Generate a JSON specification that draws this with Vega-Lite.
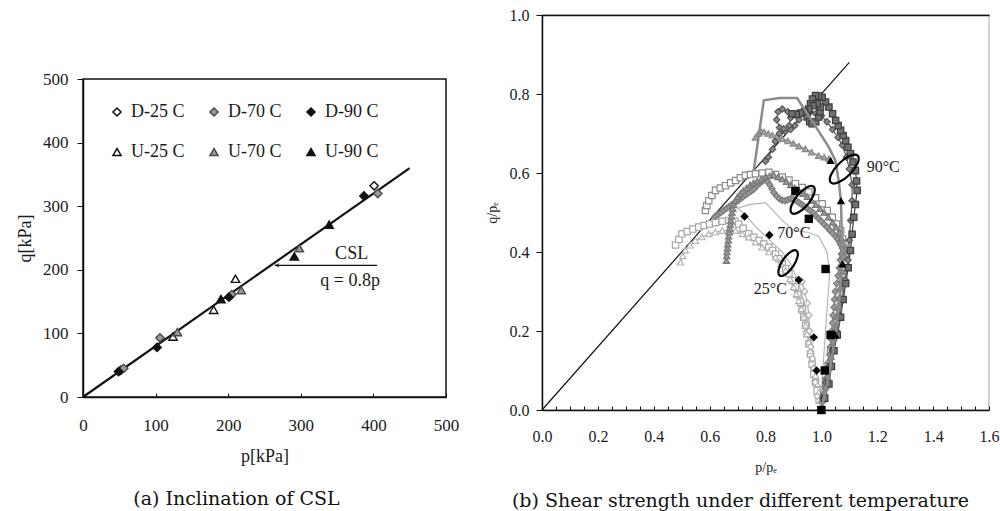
{
  "$schema": "https://vega.github.io/schema/vega-lite/v6.json",
  "background": "white",
  "padding": {"left": 15, "top": 6, "right": 0, "bottom": 0},
  "spacing": 24,
  "config": {
    "font": "Liberation Serif",
    "axis": {"labelFont": "Liberation Serif", "titleFont": "Liberation Serif", "labelColor": "#1a1a1a", "titleColor": "#1a1a1a", "titleFontWeight": "normal", "domainColor": "#111111", "tickColor": "#111111", "grid": false, "labelFlush": false, "labelOverlap": false},
    "title": {"font": "DejaVu Serif", "fontWeight": "normal", "color": "#111111"},
    "text": {"font": "Liberation Serif"}
  },
  "datasets": {
    "left": [
      {"series": "D-25 C", "p": 52, "q": 42}, {"series": "D-25 C", "p": 401, "q": 332},
      {"series": "U-25 C", "p": 124, "q": 95}, {"series": "U-25 C", "p": 180, "q": 137}, {"series": "U-25 C", "p": 210, "q": 186},
      {"series": "U-70 C", "p": 130, "q": 102}, {"series": "U-70 C", "p": 218, "q": 168}, {"series": "U-70 C", "p": 298, "q": 234},
      {"series": "D-70 C", "p": 56, "q": 45}, {"series": "D-70 C", "p": 106, "q": 93}, {"series": "D-70 C", "p": 205, "q": 161}, {"series": "D-70 C", "p": 406, "q": 320},
      {"series": "U-90 C", "p": 190, "q": 154}, {"series": "U-90 C", "p": 291, "q": 221}, {"series": "U-90 C", "p": 339, "q": 271},
      {"series": "D-90 C", "p": 49, "q": 40}, {"series": "D-90 C", "p": 102, "q": 78}, {"series": "D-90 C", "p": 201, "q": 157}, {"series": "D-90 C", "p": 387, "q": 316}
    ],
    "markers": [
      {"s":"25sq","p":0.478,"q":0.418},{"s":"25sq","p":0.49,"q":0.432},{"s":"25sq","p":0.501,"q":0.446},{"s":"25sq","p":0.52,"q":0.452},{"s":"25sq","p":0.54,"q":0.458},{"s":"25sq","p":0.561,"q":0.463},{"s":"25sq","p":0.58,"q":0.467},{"s":"25sq","p":0.6,"q":0.471},{"s":"25sq","p":0.621,"q":0.475},{"s":"25sq","p":0.645,"q":0.478},{"s":"25sq","p":0.669,"q":0.48},{"s":"25sq","p":0.69,"q":0.478},{"s":"25sq","p":0.704,"q":0.471},{"s":"25sq","p":0.72,"q":0.46},{"s":"25sq","p":0.74,"q":0.446},{"s":"25sq","p":0.758,"q":0.437},{"s":"25sq","p":0.776,"q":0.429},{"s":"25sq","p":0.794,"q":0.42},{"s":"25sq","p":0.812,"q":0.412},{"s":"25sq","p":0.825,"q":0.404},{"s":"25sq","p":0.836,"q":0.395},{"s":"25sq","p":0.848,"q":0.383},{"s":"25sq","p":0.86,"q":0.37},{"s":"25sq","p":0.872,"q":0.358},{"s":"25sq","p":0.884,"q":0.345},{"s":"25sq","p":0.896,"q":0.328},{"s":"25sq","p":0.907,"q":0.311},{"s":"25sq","p":0.916,"q":0.292},{"s":"25sq","p":0.925,"q":0.273},{"s":"25sq","p":0.931,"q":0.254},{"s":"25sq","p":0.937,"q":0.235},{"s":"25sq","p":0.943,"q":0.214},{"s":"25sq","p":0.949,"q":0.193},{"s":"25sq","p":0.955,"q":0.168},{"s":"25sq","p":0.961,"q":0.142},{"s":"25sq","p":0.967,"q":0.116},{"s":"25sq","p":0.973,"q":0.091},{"s":"25sq","p":0.979,"q":0.07},{"s":"25sq","p":0.985,"q":0.049},{"s":"25sq","p":0.992,"q":0.025},{"s":"25sq","p":1.0,"q":0.0},
      {"s":"25tri","p":0.496,"q":0.374},{"s":"25tri","p":0.504,"q":0.39},{"s":"25tri","p":0.513,"q":0.404},{"s":"25tri","p":0.53,"q":0.417},{"s":"25tri","p":0.549,"q":0.429},{"s":"25tri","p":0.572,"q":0.438},{"s":"25tri","p":0.597,"q":0.446},{"s":"25tri","p":0.62,"q":0.45},{"s":"25tri","p":0.645,"q":0.454},{"s":"25tri","p":0.67,"q":0.455},{"s":"25tri","p":0.693,"q":0.454},{"s":"25tri","p":0.717,"q":0.446},{"s":"25tri","p":0.74,"q":0.4375},{"s":"25tri","p":0.764,"q":0.425},{"s":"25tri","p":0.788,"q":0.412},{"s":"25tri","p":0.812,"q":0.4},{"s":"25tri","p":0.836,"q":0.387},{"s":"25tri","p":0.855,"q":0.37},{"s":"25tri","p":0.872,"q":0.353},{"s":"25tri","p":0.888,"q":0.332},{"s":"25tri","p":0.901,"q":0.311},{"s":"25tri","p":0.91,"q":0.294},{"s":"25tri","p":0.919,"q":0.277},{"s":"25tri","p":0.928,"q":0.256},{"s":"25tri","p":0.937,"q":0.235},{"s":"25tri","p":0.943,"q":0.214},{"s":"25tri","p":0.949,"q":0.193},{"s":"25tri","p":0.955,"q":0.172},{"s":"25tri","p":0.961,"q":0.15},{"s":"25tri","p":0.967,"q":0.129},{"s":"25tri","p":0.973,"q":0.108},{"s":"25tri","p":0.979,"q":0.087},{"s":"25tri","p":0.985,"q":0.066},{"s":"25tri","p":0.991,"q":0.045},{"s":"25tri","p":0.997,"q":0.024},{"s":"25tri","p":1.0,"q":0.0},
      {"s":"25dia","p":0.93,"q":0.325},{"s":"25dia","p":0.94,"q":0.3},{"s":"25dia","p":0.95,"q":0.27},{"s":"25dia","p":0.955,"q":0.24},{"s":"25dia","p":0.957,"q":0.2},{"s":"25dia","p":0.962,"q":0.16},{"s":"25dia","p":0.968,"q":0.13},{"s":"25dia","p":0.972,"q":0.105},{"s":"25dia","p":0.978,"q":0.07},{"s":"25dia","p":0.985,"q":0.035},
      {"s":"70sq","p":0.585,"q":0.505},{"s":"70sq","p":0.59,"q":0.518},{"s":"70sq","p":0.597,"q":0.53},{"s":"70sq","p":0.608,"q":0.543},{"s":"70sq","p":0.621,"q":0.556},{"s":"70sq","p":0.638,"q":0.562},{"s":"70sq","p":0.657,"q":0.568},{"s":"70sq","p":0.675,"q":0.575},{"s":"70sq","p":0.693,"q":0.581},{"s":"70sq","p":0.71,"q":0.588},{"s":"70sq","p":0.728,"q":0.594},{"s":"70sq","p":0.746,"q":0.596},{"s":"70sq","p":0.764,"q":0.598},{"s":"70sq","p":0.788,"q":0.6},{"s":"70sq","p":0.812,"q":0.602},{"s":"70sq","p":0.836,"q":0.596},{"s":"70sq","p":0.86,"q":0.59},{"s":"70sq","p":0.884,"q":0.582},{"s":"70sq","p":0.907,"q":0.573},{"s":"70sq","p":0.931,"q":0.563},{"s":"70sq","p":0.955,"q":0.552},{"s":"70sq","p":0.979,"q":0.537},{"s":"70sq","p":1.003,"q":0.522},{"s":"70sq","p":1.021,"q":0.505},{"s":"70sq","p":1.039,"q":0.488},{"s":"70sq","p":1.054,"q":0.471},{"s":"70sq","p":1.069,"q":0.454},{"s":"70sq","p":1.076,"q":0.433},{"s":"70sq","p":1.081,"q":0.412},{"s":"70sq","p":1.078,"q":0.387},{"s":"70sq","p":1.075,"q":0.361},{"s":"70sq","p":1.069,"q":0.328},{"s":"70sq","p":1.063,"q":0.294},{"s":"70sq","p":1.057,"q":0.26},{"s":"70sq","p":1.051,"q":0.226},{"s":"70sq","p":1.042,"q":0.188},{"s":"70sq","p":1.033,"q":0.15},{"s":"70sq","p":1.024,"q":0.112},{"s":"70sq","p":1.015,"q":0.074},{"s":"70sq","p":1.008,"q":0.037},{"s":"70sq","p":1.0,"q":0.0},
      {"s":"70dia","p":0.62,"q":0.49},{"s":"70dia","p":0.63,"q":0.495},{"s":"70dia","p":0.64,"q":0.5},{"s":"70dia","p":0.65,"q":0.505},{"s":"70dia","p":0.66,"q":0.51},{"s":"70dia","p":0.67,"q":0.515},{"s":"70dia","p":0.68,"q":0.52},{"s":"70dia","p":0.69,"q":0.525},{"s":"70dia","p":0.7,"q":0.53},{"s":"70dia","p":0.71,"q":0.535},{"s":"70dia","p":0.72,"q":0.54},{"s":"70dia","p":0.73,"q":0.545},{"s":"70dia","p":0.74,"q":0.55},{"s":"70dia","p":0.75,"q":0.555},{"s":"70dia","p":0.76,"q":0.56},{"s":"70dia","p":0.77,"q":0.568},{"s":"70dia","p":0.78,"q":0.575},{"s":"70dia","p":0.79,"q":0.58},{"s":"70dia","p":0.8,"q":0.585},{"s":"70dia","p":0.808,"q":0.578},{"s":"70dia","p":0.815,"q":0.57},{"s":"70dia","p":0.823,"q":0.56},{"s":"70dia","p":0.83,"q":0.55},{"s":"70dia","p":0.84,"q":0.542},{"s":"70dia","p":0.85,"q":0.535},{"s":"70dia","p":0.86,"q":0.531},{"s":"70dia","p":0.87,"q":0.53},{"s":"70dia","p":0.88,"q":0.532},{"s":"70dia","p":0.89,"q":0.535},{"s":"70dia","p":0.9,"q":0.533},{"s":"70dia","p":0.91,"q":0.53},{"s":"70dia","p":0.92,"q":0.525},{"s":"70dia","p":0.93,"q":0.52},{"s":"70dia","p":0.94,"q":0.515},{"s":"70dia","p":0.95,"q":0.51},{"s":"70dia","p":0.96,"q":0.505},{"s":"70dia","p":0.97,"q":0.5},{"s":"70dia","p":0.98,"q":0.492},{"s":"70dia","p":0.99,"q":0.485},{"s":"70dia","p":1.0,"q":0.478},{"s":"70dia","p":1.01,"q":0.47},{"s":"70dia","p":1.02,"q":0.463},{"s":"70dia","p":1.03,"q":0.455},{"s":"70dia","p":1.04,"q":0.448},{"s":"70dia","p":1.05,"q":0.44},{"s":"70dia","p":1.058,"q":0.433},{"s":"70dia","p":1.065,"q":0.425},{"s":"70dia","p":1.07,"q":0.418},{"s":"70dia","p":1.075,"q":0.41},{"s":"70dia","p":1.072,"q":0.395},{"s":"70dia","p":1.068,"q":0.38},{"s":"70dia","p":1.064,"q":0.36},{"s":"70dia","p":1.06,"q":0.34},{"s":"70dia","p":1.055,"q":0.32},{"s":"70dia","p":1.05,"q":0.3},{"s":"70dia","p":1.047,"q":0.28},{"s":"70dia","p":1.045,"q":0.26},{"s":"70dia","p":1.042,"q":0.24},{"s":"70dia","p":1.04,"q":0.22},{"s":"70dia","p":1.037,"q":0.2},{"s":"70dia","p":1.035,"q":0.18},{"s":"70dia","p":1.032,"q":0.16},{"s":"70dia","p":1.03,"q":0.14},{"s":"70dia","p":1.025,"q":0.12},{"s":"70dia","p":1.02,"q":0.1},{"s":"70dia","p":1.016,"q":0.08},{"s":"70dia","p":1.012,"q":0.06},{"s":"70dia","p":1.008,"q":0.04},{"s":"70dia","p":1.004,"q":0.02},{"s":"70dia","p":1.0,"q":0.0},
      {"s":"70tri","p":0.66,"q":0.378},{"s":"70tri","p":0.661,"q":0.39},{"s":"70tri","p":0.662,"q":0.4},{"s":"70tri","p":0.664,"q":0.41},{"s":"70tri","p":0.665,"q":0.42},{"s":"70tri","p":0.667,"q":0.43},{"s":"70tri","p":0.668,"q":0.44},{"s":"70tri","p":0.67,"q":0.45},{"s":"70tri","p":0.672,"q":0.46},{"s":"70tri","p":0.674,"q":0.47},{"s":"70tri","p":0.676,"q":0.48},{"s":"70tri","p":0.678,"q":0.49},{"s":"70tri","p":0.68,"q":0.5},{"s":"70tri","p":0.683,"q":0.51},{"s":"70tri","p":0.686,"q":0.52},{"s":"70tri","p":0.692,"q":0.53},{"s":"70tri","p":0.7,"q":0.54},{"s":"70tri","p":0.71,"q":0.548},{"s":"70tri","p":0.72,"q":0.555},{"s":"70tri","p":0.732,"q":0.562},{"s":"70tri","p":0.745,"q":0.57},{"s":"70tri","p":0.757,"q":0.575},{"s":"70tri","p":0.77,"q":0.58},{"s":"70tri","p":0.785,"q":0.585},{"s":"70tri","p":0.8,"q":0.59},{"s":"70tri","p":0.815,"q":0.593},{"s":"70tri","p":0.83,"q":0.595},{"s":"70tri","p":0.845,"q":0.59},{"s":"70tri","p":0.86,"q":0.585},{"s":"70tri","p":0.875,"q":0.578},{"s":"70tri","p":0.89,"q":0.57},{"s":"70tri","p":0.905,"q":0.563},{"s":"70tri","p":0.92,"q":0.555},{"s":"70tri","p":0.935,"q":0.548},{"s":"70tri","p":0.95,"q":0.54},{"s":"70tri","p":0.965,"q":0.53},{"s":"70tri","p":0.98,"q":0.52},{"s":"70tri","p":0.995,"q":0.51},{"s":"70tri","p":1.01,"q":0.5},{"s":"70tri","p":1.025,"q":0.488},{"s":"70tri","p":1.04,"q":0.475},{"s":"70tri","p":1.053,"q":0.463},{"s":"70tri","p":1.065,"q":0.45},{"s":"70tri","p":1.072,"q":0.435},{"s":"70tri","p":1.078,"q":0.42},{"s":"70tri","p":1.08,"q":0.405},{"s":"70tri","p":1.08,"q":0.39},{"s":"70tri","p":1.078,"q":0.37},{"s":"70tri","p":1.075,"q":0.35},{"s":"70tri","p":1.072,"q":0.33},{"s":"70tri","p":1.068,"q":0.31},{"s":"70tri","p":1.064,"q":0.285},{"s":"70tri","p":1.06,"q":0.26},{"s":"70tri","p":1.055,"q":0.235},{"s":"70tri","p":1.05,"q":0.21},{"s":"70tri","p":1.045,"q":0.185},{"s":"70tri","p":1.04,"q":0.16},{"s":"70tri","p":1.034,"q":0.135},{"s":"70tri","p":1.028,"q":0.11},{"s":"70tri","p":1.022,"q":0.085},{"s":"70tri","p":1.015,"q":0.06},{"s":"70tri","p":1.008,"q":0.03},{"s":"70tri","p":1.0,"q":0.0},
      {"s":"90tri","p":0.764,"q":0.69},{"s":"90tri","p":0.775,"q":0.7},{"s":"90tri","p":0.782,"q":0.708},{"s":"90tri","p":0.795,"q":0.704},{"s":"90tri","p":0.81,"q":0.7},{"s":"90tri","p":0.825,"q":0.696},{"s":"90tri","p":0.84,"q":0.692},{"s":"90tri","p":0.86,"q":0.687},{"s":"90tri","p":0.88,"q":0.681},{"s":"90tri","p":0.9,"q":0.675},{"s":"90tri","p":0.92,"q":0.668},{"s":"90tri","p":0.943,"q":0.661},{"s":"90tri","p":0.965,"q":0.653},{"s":"90tri","p":0.99,"q":0.644},{"s":"90tri","p":1.01,"q":0.64},{"s":"90tri","p":1.027,"q":0.636},
      {"s":"90dia","p":1.0,"q":0.0},{"s":"90dia","p":1.005,"q":0.03},{"s":"90dia","p":1.015,"q":0.07},{"s":"90dia","p":1.025,"q":0.11},{"s":"90dia","p":1.04,"q":0.15},{"s":"90dia","p":1.055,"q":0.2},{"s":"90dia","p":1.065,"q":0.24},{"s":"90dia","p":1.075,"q":0.28},{"s":"90dia","p":1.085,"q":0.33},{"s":"90dia","p":1.095,"q":0.38},{"s":"90dia","p":1.1,"q":0.43},{"s":"90dia","p":1.105,"q":0.48},{"s":"90dia","p":1.11,"q":0.53},{"s":"90dia","p":1.11,"q":0.57},{"s":"90dia","p":1.1,"q":0.61},{"s":"90dia","p":1.09,"q":0.64},{"s":"90dia","p":1.075,"q":0.67},{"s":"90dia","p":1.06,"q":0.69},{"s":"90dia","p":1.04,"q":0.71},{"s":"90dia","p":1.02,"q":0.73},{"s":"90dia","p":1.0,"q":0.745},{"s":"90dia","p":0.98,"q":0.75},{"s":"90dia","p":0.96,"q":0.755},{"s":"90dia","p":0.94,"q":0.75},{"s":"90dia","p":0.92,"q":0.735},{"s":"90dia","p":0.905,"q":0.72},{"s":"90dia","p":0.89,"q":0.71},{"s":"90dia","p":0.87,"q":0.705},{"s":"90dia","p":0.85,"q":0.715},{"s":"90dia","p":0.84,"q":0.735},{"s":"90dia","p":0.845,"q":0.755},{"s":"90dia","p":0.86,"q":0.762},{"s":"90dia","p":0.88,"q":0.755},{"s":"90dia","p":0.89,"q":0.74},{"s":"90dia","p":0.885,"q":0.72},{"s":"90dia","p":0.865,"q":0.712},{"s":"90dia","p":0.85,"q":0.7},{"s":"90dia","p":0.835,"q":0.68},{"s":"90dia","p":0.825,"q":0.66},{"s":"90dia","p":0.81,"q":0.64},{"s":"90dia","p":0.8,"q":0.63},
      {"s":"90sq","p":1.0,"q":0.0},{"s":"90sq","p":1.012,"q":0.03},{"s":"90sq","p":1.027,"q":0.066},{"s":"90sq","p":1.036,"q":0.11},{"s":"90sq","p":1.045,"q":0.15},{"s":"90sq","p":1.057,"q":0.19},{"s":"90sq","p":1.069,"q":0.235},{"s":"90sq","p":1.078,"q":0.28},{"s":"90sq","p":1.087,"q":0.32},{"s":"90sq","p":1.096,"q":0.36},{"s":"90sq","p":1.104,"q":0.404},{"s":"90sq","p":1.11,"q":0.445},{"s":"90sq","p":1.116,"q":0.488},{"s":"90sq","p":1.122,"q":0.52},{"s":"90sq","p":1.128,"q":0.556},{"s":"90sq","p":1.126,"q":0.58},{"s":"90sq","p":1.122,"q":0.606},{"s":"90sq","p":1.113,"q":0.628},{"s":"90sq","p":1.104,"q":0.649},{"s":"90sq","p":1.095,"q":0.665},{"s":"90sq","p":1.087,"q":0.682},{"s":"90sq","p":1.078,"q":0.695},{"s":"90sq","p":1.069,"q":0.708},{"s":"90sq","p":1.06,"q":0.72},{"s":"90sq","p":1.051,"q":0.733},{"s":"90sq","p":1.04,"q":0.75},{"s":"90sq","p":1.027,"q":0.767},{"s":"90sq","p":1.015,"q":0.78},{"s":"90sq","p":1.003,"q":0.792},{"s":"90sq","p":0.99,"q":0.795},{"s":"90sq","p":0.979,"q":0.796},{"s":"90sq","p":0.968,"q":0.787},{"s":"90sq","p":0.961,"q":0.775},{"s":"90sq","p":0.953,"q":0.758},{"s":"90sq","p":0.949,"q":0.742},{"s":"90sq","p":0.958,"q":0.73},{"s":"90sq","p":0.967,"q":0.725},{"s":"90sq","p":0.98,"q":0.73},{"s":"90sq","p":0.991,"q":0.742},{"s":"90sq","p":0.995,"q":0.755},{"s":"90sq","p":0.997,"q":0.767},{"s":"90sq","p":0.985,"q":0.775},{"s":"90sq","p":0.97,"q":0.77},{"s":"90sq","p":0.955,"q":0.762},{"s":"90sq","p":0.94,"q":0.756},{"s":"90sq","p":0.925,"q":0.752},{"s":"90sq","p":0.91,"q":0.748},{"s":"90sq","p":0.895,"q":0.75}
    ],
    "plain": [
      {"s":"25line","p":1.0,"q":0.0},{"s":"25line","p":0.99,"q":0.06},{"s":"25line","p":0.97,"q":0.14},{"s":"25line","p":0.95,"q":0.22},{"s":"25line","p":0.935,"q":0.28},{"s":"25line","p":0.915,"q":0.33},{"s":"25line","p":0.89,"q":0.37},{"s":"25line","p":0.86,"q":0.4},{"s":"25line","p":0.83,"q":0.42},{"s":"25line","p":0.8,"q":0.44},{"s":"25line","p":0.77,"q":0.46},{"s":"25line","p":0.745,"q":0.48},{"s":"25line","p":0.72,"q":0.5},{"s":"25line","p":0.7,"q":0.51},{"s":"25line","p":0.74,"q":0.52},{"s":"25line","p":0.8,"q":0.525},{"s":"25line","p":0.86,"q":0.48},{"s":"25line","p":0.9,"q":0.455},{"s":"25line","p":0.95,"q":0.45},{"s":"25line","p":0.99,"q":0.44},{"s":"25line","p":1.02,"q":0.4},{"s":"25line","p":1.03,"q":0.35},{"s":"25line","p":1.025,"q":0.3},{"s":"25line","p":1.015,"q":0.2},{"s":"25line","p":1.005,"q":0.1},{"s":"25line","p":1.0,"q":0.0},
      {"s":"90line","p":0.758,"q":0.606},{"s":"90line","p":0.794,"q":0.784},{"s":"90line","p":0.85,"q":0.79},{"s":"90line","p":0.913,"q":0.79},{"s":"90line","p":0.97,"q":0.728},{"s":"90line","p":1.027,"q":0.665},{"s":"90line","p":1.05,"q":0.632},{"s":"90line","p":1.062,"q":0.58},{"s":"90line","p":1.07,"q":0.53},{"s":"90line","p":1.073,"q":0.45},{"s":"90line","p":1.075,"q":0.37},{"s":"90line","p":1.065,"q":0.28},{"s":"90line","p":1.05,"q":0.19},{"s":"90line","p":1.03,"q":0.1},{"s":"90line","p":1.012,"q":0.04},{"s":"90line","p":1.0,"q":0.0}
    ],
    "black": [
      {"s":"Bdia","p":0.725,"q":0.49},{"s":"Bdia","p":0.814,"q":0.443},{"s":"Bdia","p":0.919,"q":0.329},{"s":"Bdia","p":0.973,"q":0.184},{"s":"Bdia","p":0.983,"q":0.1},{"s":"Bdia","p":1.0,"q":0.0},
      {"s":"Bsq","p":0.907,"q":0.554},{"s":"Bsq","p":0.955,"q":0.484},{"s":"Bsq","p":1.015,"q":0.357},{"s":"Bsq","p":1.033,"q":0.19},{"s":"Bsq","p":1.012,"q":0.1},{"s":"Bsq","p":1.0,"q":0.0},
      {"s":"Btri","p":1.033,"q":0.632},{"s":"Btri","p":1.07,"q":0.53},{"s":"Btri","p":1.075,"q":0.37},{"s":"Btri","p":1.05,"q":0.19},{"s":"Btri","p":1.0,"q":0.0}
    ]
  },
  "hconcat": [
    {
      "bounds": "flush",
      "spacing": 0,
      "vconcat": [
        {
          "width": 10,
          "height": 64,
          "view": {"stroke": null},
          "data": {"values": []},
          "mark": "point"
        },
        {
          "width": 363,
          "height": 318,
          "view": {"stroke": "#111111", "strokeWidth": 1.5},
          "title": {"text": "(a) Inclination of CSL", "orient": "bottom", "anchor": "middle", "frame": "group", "dx": -28, "offset": 25, "fontSize": 19},
          "layer": [
            {
              "data": {"values": [{"p": 0, "q": 0}, {"p": 450, "q": 360}]},
              "mark": {"type": "line", "color": "#111111", "strokeWidth": 2.2},
              "encoding": {
                "x": {"field": "p", "type": "quantitative", "scale": {"domain": [0, 500], "nice": false},
                  "axis": {"title": "p[kPa]", "values": [0, 50, 100, 150, 200, 250, 300, 350, 400, 450, 500], "labelExpr": "datum.value % 100 === 0 ? datum.label : ''", "tickSize": -4, "tickWidth": 1, "labelPadding": 24, "labelFontSize": 17, "titleFontSize": 18, "titlePadding": 14, "domainWidth": 1.5}},
                "y": {"field": "q", "type": "quantitative", "scale": {"domain": [0, 500], "nice": false},
                  "axis": {"title": "q[kPa]", "values": [0, 50, 100, 150, 200, 250, 300, 350, 400, 450, 500], "labelExpr": "datum.value % 100 === 0 ? datum.label : ''", "tickSize": {"condition": {"test": "datum.value % 100 === 0", "value": 6}, "value": -5}, "tickWidth": 1, "labelPadding": 9, "labelFontSize": 17, "titleFontSize": 18, "titlePadding": 8, "domainWidth": 1.5}}
              }
            },
            {
              "data": {"values": [{"p": 264, "q": 207}, {"p": 405, "q": 207}]},
              "mark": {"type": "line", "color": "#111111", "strokeWidth": 1.3},
              "encoding": {
                "x": {"field": "p", "type": "quantitative"},
                "y": {"field": "q", "type": "quantitative"}
              }
            },
            {
              "data": {"values": [{"p": 267, "q": 207}]},
              "mark": {"type": "point", "shape": "triangle-left", "filled": true, "size": 22, "color": "#111111"},
              "encoding": {
                "x": {"field": "p", "type": "quantitative"},
                "y": {"field": "q", "type": "quantitative"}
              }
            },
            {
              "data": {"name": "left"},
              "mark": {"type": "point", "filled": true, "size": 70, "strokeWidth": 1.4, "opacity": 1},
              "encoding": {
                "x": {"field": "p", "type": "quantitative"},
                "y": {"field": "q", "type": "quantitative"},
                "shape": {"field": "series", "type": "nominal",
                  "scale": {"domain": ["D-25 C", "D-70 C", "D-90 C", "U-25 C", "U-70 C", "U-90 C"], "range": ["diamond", "diamond", "diamond", "triangle-up", "triangle-up", "triangle-up"]},
                  "legend": {"title": null, "orient": "none", "legendX": 25, "legendY": 88, "direction": "horizontal", "columns": 3, "labelFont": "Liberation Serif", "labelFontSize": 18, "labelColor": "#1a1a1a", "symbolSize": 65, "symbolStrokeWidth": 1.5, "columnPadding": 20, "rowPadding": 22, "labelOffset": 5}},
                "fill": {"field": "series", "type": "nominal",
                  "scale": {"domain": ["D-25 C", "D-70 C", "D-90 C", "U-25 C", "U-70 C", "U-90 C"], "range": ["#ffffff", "#9a9a9a", "#111111", "#ffffff", "#9a9a9a", "#111111"]}},
                "stroke": {"field": "series", "type": "nominal",
                  "scale": {"domain": ["D-25 C", "D-70 C", "D-90 C", "U-25 C", "U-70 C", "U-90 C"], "range": ["#111111", "#4a4a4a", "#111111", "#111111", "#4a4a4a", "#111111"]}}
              }
            },
            {
              "data": {"values": [{"label": "CSL", "p": 370, "q": 225}, {"label": "q = 0.8p", "p": 368, "q": 183}]},
              "mark": {"type": "text", "fontSize": 18, "color": "#1a1a1a", "font": "Liberation Serif"},
              "encoding": {
                "x": {"field": "p", "type": "quantitative"},
                "y": {"field": "q", "type": "quantitative"},
                "text": {"field": "label"}
              }
            }
          ]
        }
      ]
    },
    {
      "width": 447,
      "height": 395,
      "view": {"stroke": "#c4c4c4", "strokeWidth": 1.5},
      "title": {"text": "(b) Shear strength under different temperature", "orient": "bottom", "anchor": "middle", "frame": "group", "dx": -25, "offset": 18, "fontSize": 19},
      "resolve": {"axis": {"x": "independent"}, "scale": {"shape": "independent"}},
      "layer": [
        {
          "data": {"values": [{"p": 0, "q": 0}, {"p": 1.1, "q": 0.88}]},
          "mark": {"type": "line", "color": "#111111", "strokeWidth": 1.2},
          "encoding": {
            "x": {"field": "p", "type": "quantitative", "scale": {"domain": [0, 1.6], "nice": false},
              "axis": {"title": "p/pₑ", "values": [0, 0.05, 0.1, 0.15, 0.2, 0.25, 0.3, 0.35, 0.4, 0.45, 0.5, 0.55, 0.6, 0.65, 0.7, 0.75, 0.8, 0.85, 0.9, 0.95, 1, 1.05, 1.1, 1.15, 1.2, 1.25, 1.3, 1.35, 1.4, 1.45, 1.5, 1.55, 1.6], "labelExpr": "abs(datum.value*5 - round(datum.value*5)) < 0.001 ? format(datum.value, '.1f') : ''", "tickSize": -4, "tickWidth": 1, "labelPadding": 22, "labelFontSize": 16, "titleFontSize": 14, "titlePadding": 16, "domainWidth": 1.5}},
            "y": {"field": "q", "type": "quantitative", "scale": {"domain": [0, 1], "nice": false},
              "axis": {"title": "q/pₑ", "values": [0, 0.05, 0.1, 0.15, 0.2, 0.25, 0.3, 0.35, 0.4, 0.45, 0.5, 0.55, 0.6, 0.65, 0.7, 0.75, 0.8, 0.85, 0.9, 0.95, 1], "labelExpr": "abs(datum.value*5 - round(datum.value*5)) < 0.001 ? format(datum.value, '.1f') : ''", "tickSize": {"condition": {"test": "abs(datum.value*5 - round(datum.value*5)) < 0.001", "value": 6}, "value": -4}, "tickWidth": 1, "labelPadding": 7, "labelFontSize": 16, "titleFontSize": 14, "titlePadding": 10, "domainWidth": 1.5}}
          }
        },
        {
          "data": {"name": "plain"},
          "transform": [{"filter": "datum.s === '25line'"}],
          "mark": {"type": "line", "color": "#b5b5b5", "strokeWidth": 1.2},
          "encoding": {
            "x": {"field": "p", "type": "quantitative", "axis": null},
            "y": {"field": "q", "type": "quantitative"},
            "order": {"value": null}
          }
        },
        {
          "data": {"name": "markers"},
          "mark": {"type": "line", "strokeWidth": 1.2},
          "encoding": {
            "x": {"field": "p", "type": "quantitative", "axis": null},
            "y": {"field": "q", "type": "quantitative"},
            "stroke": {"field": "s", "type": "nominal", "legend": null,
              "scale": {"domain": ["25sq", "25tri", "25dia", "70sq", "70dia", "70tri", "90tri", "90dia", "90sq"], "range": ["#a6a6a6", "#b3b3b3", "#adadad", "#8a8a8a", "#7a7a7a", "#787878", "#888888", "#555555", "#3c3c3c"]}},
            "order": {"value": null}
          }
        },
        {
          "data": {"name": "markers"},
          "mark": {"type": "point", "filled": true, "size": 40, "strokeWidth": 1.2, "opacity": 1},
          "encoding": {
            "x": {"field": "p", "type": "quantitative", "axis": null},
            "y": {"field": "q", "type": "quantitative"},
            "stroke": {"field": "s", "type": "nominal", "legend": null,
              "scale": {"domain": ["25sq", "25tri", "25dia", "70sq", "70dia", "70tri", "90tri", "90dia", "90sq"], "range": ["#a6a6a6", "#b3b3b3", "#adadad", "#8a8a8a", "#7a7a7a", "#787878", "#888888", "#555555", "#3c3c3c"]}},
            "fill": {"field": "s", "type": "nominal", "legend": null,
              "scale": {"domain": ["25sq", "25tri", "25dia", "70sq", "70dia", "70tri", "90tri", "90dia", "90sq"], "range": ["#ffffff", "#ffffff", "#ffffff", "#ffffff", "#9c9c9c", "#9a9a9a", "#a6a6a6", "#8a8a8a", "#707070"]}},
            "shape": {"field": "s", "type": "nominal", "legend": null,
              "scale": {"domain": ["25sq", "25tri", "25dia", "70sq", "70dia", "70tri", "90tri", "90dia", "90sq"], "range": ["square", "triangle-up", "diamond", "square", "diamond", "triangle-up", "triangle-up", "diamond", "square"]}}
          }
        },
        {
          "data": {"name": "plain"},
          "transform": [{"filter": "datum.s === '90line'"}],
          "mark": {"type": "line", "color": "#8c8c8c", "strokeWidth": 2.5},
          "encoding": {
            "x": {"field": "p", "type": "quantitative", "axis": null},
            "y": {"field": "q", "type": "quantitative"},
            "order": {"value": null}
          }
        },
        {
          "data": {"name": "black"},
          "mark": {"type": "point", "filled": true, "size": 70, "color": "#000000", "opacity": 1},
          "encoding": {
            "x": {"field": "p", "type": "quantitative", "axis": null},
            "y": {"field": "q", "type": "quantitative"},
            "shape": {"field": "s", "type": "nominal", "legend": null,
              "scale": {"domain": ["Bdia", "Bsq", "Btri"], "range": ["diamond", "square", "triangle-up"]}}
          }
        },
        {
          "data": {"values": [{"t": "25", "p": 0.881, "q": 0.372}, {"t": "70", "p": 0.933, "q": 0.532}, {"t": "90", "p": 1.082, "q": 0.61}]},
          "mark": {"type": "point", "shape": "M -1 0 A 1 0.4 0 1 1 1 0 A 1 0.4 0 1 1 -1 0 Z", "filled": false, "stroke": "#000000", "strokeWidth": 2.2, "opacity": 1},
          "encoding": {
            "x": {"field": "p", "type": "quantitative", "axis": null},
            "y": {"field": "q", "type": "quantitative"},
            "size": {"field": "t", "type": "ordinal", "legend": null, "scale": {"domain": ["25", "70", "90"], "range": [900, 1440, 1600]}},
            "angle": {"field": "t", "type": "ordinal", "legend": null, "scale": {"domain": ["25", "70", "90"], "range": [124, 135, 142]}}
          }
        },
        {
          "data": {"values": [{"label": "90°C", "p": 1.162, "q": 0.615}, {"label": "70°C", "p": 0.842, "q": 0.448}, {"label": "25°C", "p": 0.758, "q": 0.307}]},
          "mark": {"type": "text", "align": "left", "baseline": "middle", "fontSize": 16, "color": "#1a1a1a", "font": "Liberation Serif"},
          "encoding": {
            "x": {"field": "p", "type": "quantitative", "axis": {"orient": "top", "labels": false, "ticks": false, "domain": true, "domainColor": "#111111", "domainWidth": 1.5, "title": null}},
            "y": {"field": "q", "type": "quantitative"},
            "text": {"field": "label"}
          }
        }
      ]
    }
  ],
  "resolve": {"scale": {"x": "independent", "y": "independent", "shape": "independent", "fill": "independent", "stroke": "independent"}}
}
